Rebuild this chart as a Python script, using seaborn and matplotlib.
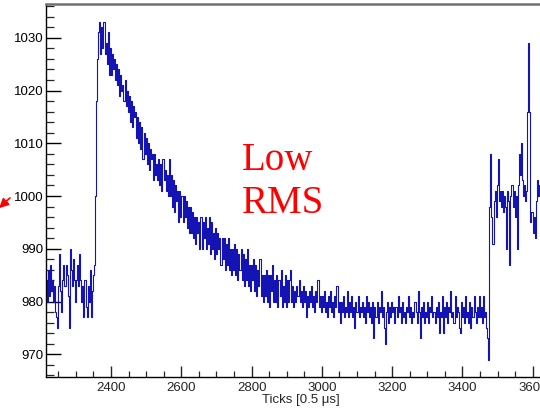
import numpy as np
import pandas as pd
import matplotlib
matplotlib.use("Agg")
import matplotlib.pyplot as plt
from matplotlib.ticker import MultipleLocator
import seaborn as sns

# ---- data (ADC counts, one sample every 3 ticks starting at tick 2215) ----
start_tick = 2215
tick_step = 3

pre_pulse = [984, 980, 986, 981, 987, 982, 984, 980, 983, 978,
             977, 975, 983, 989, 982, 978, 984, 987, 983, 987,
             985, 981, 975, 990, 986, 983, 988, 984, 980, 984,
             987, 983, 989, 984, 980, 983, 977, 984, 979, 977,
             983, 980, 986, 977, 982, 985, 987]

pulse = [1000, 1018, 1026, 1031, 1033, 1027, 1032, 1028, 1033, 1027,
         1029, 1025, 1031, 1023, 1028, 1023, 1027, 1024, 1026, 1022,
         1025, 1021, 1024, 1019, 1023, 1020, 1021, 1018, 1022, 1017,
         1020, 1016, 1019, 1014, 1018, 1013, 1017, 1015, 1016, 1011,
         1015, 1010, 1014, 1009, 1013, 1007, 1012, 1008, 1011, 1006,
         1010, 1005, 1009, 1007, 1008, 1003, 1008, 1004, 1006, 1003,
         1007, 1002, 1006, 1001, 1007, 1003, 1005, 1001, 1004, 1000,
         1007, 1000, 1004, 998, 1003, 997, 1002, 999, 1001, 995,
         1001, 996, 1000, 995, 1000, 996, 999, 994, 998, 993,
         998, 993, 997, 992, 996, 991, 996, 993, 995, 990,
         996, 990, 995, 992, 996, 990, 994, 991, 996, 989,
         995, 990, 993, 988, 994, 989, 993, 990, 992, 987,
         992, 988, 992, 986, 991, 987, 992, 986, 990, 985,
         990, 986, 991, 985, 990, 984, 989, 986, 990, 984,
         989, 983, 988, 984, 990, 983, 987, 982, 987, 984,
         988, 982, 987, 981, 986, 983, 988, 981, 985, 980,
         985, 981, 986, 980, 985, 979, 985, 982, 987, 980,
         984, 980, 985, 979, 984, 981, 986, 979, 983, 980,
         985, 979, 984, 980]

tail = [984, 986, 980, 983, 979, 982, 980, 983, 981, 984,
        980, 982, 979, 983, 980, 982, 977, 981, 979, 982,
        980, 983, 979, 981, 978, 982, 980, 984, 979, 981,
        978, 981, 979, 982, 978, 980, 977, 981, 979, 982,
        978, 980, 977, 981, 979, 983, 978, 980, 976, 980,
        978, 981, 977, 979, 978, 982, 977, 980, 978, 981,
        977, 979, 975, 980, 978, 981, 977, 979, 978, 980,
        977, 979, 976, 981, 978, 980, 977, 979, 976, 980,
        973, 979, 977, 980, 976, 979, 978, 982, 977, 979,
        975, 972, 978, 980, 976, 979, 977, 980, 978, 979,
        976, 979, 977, 981, 978, 979, 976, 980, 977, 978,
        976, 979, 978, 981, 977, 979, 976, 978, 977, 980,
        978, 976, 982, 978, 973, 979, 977, 980, 976, 978,
        977, 980, 976, 979, 978, 981, 977, 978, 976, 979,
        977, 980, 974, 978, 977, 981, 974, 979, 977, 980,
        976, 979, 978, 982, 977, 978, 976, 981, 977, 979,
        978, 975, 974, 980, 977, 979, 976, 981, 977, 978,
        976, 980, 975, 979, 977, 981, 978, 976, 979, 977,
        981, 977, 979, 976, 981, 977, 978, 975, 973, 969]

post_jump = [998, 1008, 996, 991, 999, 1001, 996, 1002, 1007, 999,
             1001, 998, 1001, 997, 1000, 998, 990, 1001, 999, 987,
             1000, 1002, 998, 1001, 996, 1000, 990, 1002, 1008, 1004,
             1010, 1003, 1000, 1002, 999, 1001, 1016, 1029, 1016, 995,
             997, 993, 996, 992, 999, 1003, 1000, 1002]

x_major_ticks = [2400, 2600, 2800, 3000, 3200, 3400, 3600]
y_major_ticks = [970, 980, 990, 1000, 1010, 1020, 1030]
x_label = "Ticks [0.5 \u03bcs]"
note_lines = ["Low", "RMS"]

adc = pre_pulse + pulse + tail + post_jump
ticks = start_tick + tick_step * np.arange(len(adc))
df = pd.DataFrame({"tick": ticks, "adc": adc})

# ---- figure ----
sns.set_style("ticks")
plt.rcParams["font.family"] = ["Liberation Sans", "DejaVu Sans"]

W, H = 540, 412
fig = plt.figure(figsize=(W / 100, H / 100), dpi=100)
ax_l, ax_r, ax_t, ax_b = 46, 551, 4, 377
ax = fig.add_axes([ax_l / W, (H - ax_b) / H, (ax_r - ax_l) / W, (ax_b - ax_t) / H])

sns.lineplot(data=df, x="tick", y="adc", ax=ax, color="#1414b4", linewidth=0.8,
             drawstyle="steps-mid", estimator=None, sort=False)

ax.set_xlim(2215, 3652)
ax.set_ylim(965.7, 1036.4)
ax.set_xticks(x_major_ticks)
ax.set_yticks(y_major_ticks)
ax.xaxis.set_minor_locator(MultipleLocator(50))
ax.yaxis.set_minor_locator(MultipleLocator(2))

ax.tick_params(axis="y", which="major", direction="in", length=11, width=1.0,
               labelsize=9.5, pad=2, colors="black")
ax.tick_params(axis="y", which="minor", direction="in", length=5.8, width=0.9)
ax.tick_params(axis="x", which="major", direction="in", length=8, width=1.0,
               labelsize=9.5, pad=3.5)
ax.tick_params(axis="x", which="minor", direction="in", length=4, width=0.9)

for s in ["left", "bottom"]:
    ax.spines[s].set_color("black")
    ax.spines[s].set_linewidth(1.0)
ax.spines["top"].set_visible(True)
ax.spines["top"].set_color("#707070")
ax.spines["top"].set_linewidth(1.8)
ax.spines["right"].set_visible(False)

ax.set_ylabel("")
ax.set_xlabel(x_label, fontsize=9.5)
ax.xaxis.set_label_coords((340 - ax_l) / (ax_r - ax_l), (ax_b - 403) / (ax_b - ax_t))
ax.xaxis.label.set_ha("right")
ax.xaxis.label.set_va("baseline")

# red annotation text
fig.text(242 / W, (H - 170) / H, note_lines[0], color="red", fontsize=28,
         family="Liberation Serif", ha="left", va="baseline")
fig.text(242 / W, (H - 213) / H, note_lines[1], color="red", fontsize=28,
         family="Liberation Serif", ha="left", va="baseline")

# partially visible red arrow at the left edge
fig.patches.append(matplotlib.patches.FancyArrowPatch(
    (12, H - 196), (-3, H - 210), transform=None, color="red",
    arrowstyle="-|>", mutation_scale=14, linewidth=1.2))

fig.savefig("out.png", dpi=100)
